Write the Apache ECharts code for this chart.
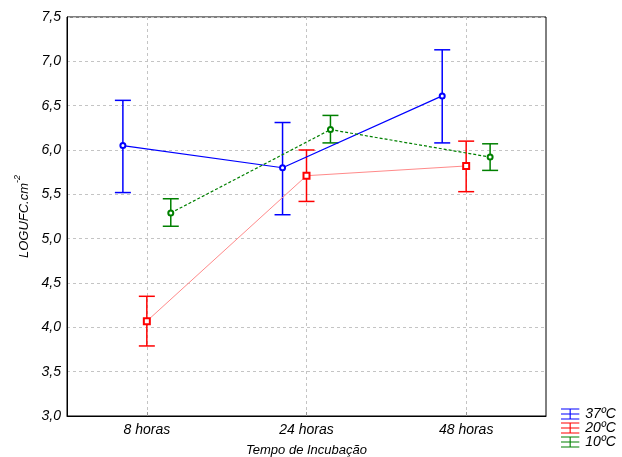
<!DOCTYPE html>
<html>
<head>
<meta charset="utf-8">
<script src="https://cdn.jsdelivr.net/npm/echarts@6/dist/echarts.min.js"></script>
<style>
  html, body { margin: 0; padding: 0; background: #fff; }
  #chart { width: 622px; height: 457px; }
</style>
</head>
<body>
<div id="chart"></div>
<script>
// valores (média e limites do erro)
const categories = ['8 horas', '24 horas', '48 horas']
const mean37 = [6.05, 5.80, 6.61]
const low37 = [5.52, 5.27, 6.08]
const high37 = [6.56, 6.31, 7.13]
const mean20 = [4.07, 5.71, 5.82]
const low20 = [3.79, 5.42, 5.53]
const high20 = [4.35, 6.00, 6.10]
const mean10 = [5.29, 6.23, 5.92]
const low10 = [5.14, 6.08, 5.77]
const high10 = [5.45, 6.39, 6.07]
const seriesNames = ['37ºC', '20ºC', '10ºC']

const FONT = '"Liberation Sans", Arial, sans-serif'
const txt = { color: '#000', fontFamily: FONT, fontStyle: 'italic', fontSize: 13 }
const tickTxt = { ...txt, fontSize: 14 }

// eixo visível: categorias intercaladas com vazios para os ticks caírem no centro
const xAxisData = ['']
categories.forEach(c => xAxisData.push(c, ''))
const odd = i => i % 2 === 1

const barIcon = 'path://M0,0H20V1.2H0Z M0,5.4H20V6.6H0Z M0,10.8H20V12H0Z M9.4,0H10.6V12H9.4Z'

function pts(mean, off) { return mean.map((v, i) => [i + off, v]) }

function errBars(name, color, off, low, high) {
  return {
    type: 'custom', name, xAxisIndex: 1, yAxisIndex: 0, silent: true, z: 3,
    data: low.map((l, i) => [i + off, l, high[i]]),
    encode: { x: 0, y: [1, 2] },
    renderItem(params, api) {
      const x = api.value(0)
      const lo = api.coord([x, api.value(1)])
      const hi = api.coord([x, api.value(2)])
      const w = 8
      const style = { stroke: color, lineWidth: 1.5 }
      return {
        type: 'group', children: [
          { type: 'line', shape: { x1: lo[0], y1: lo[1], x2: hi[0], y2: hi[1] }, style },
          { type: 'line', shape: { x1: lo[0] - w, y1: lo[1], x2: lo[0] + w, y2: lo[1] }, style },
          { type: 'line', shape: { x1: hi[0] - w, y1: hi[1], x2: hi[0] + w, y2: hi[1] }, style }
        ]
      }
    }
  }
}

const chart = echarts.init(document.getElementById('chart'))
chart.setOption({
  animation: false,
  backgroundColor: '#fff',
  grid: {
    left: 67, right: 76, top: 17, bottom: 41, outerBoundsMode: 'none',
    show: true, borderColor: '#000', borderWidth: 1
  },
  xAxis: [{
    type: 'category', data: xAxisData, boundaryGap: false,
    name: 'Tempo de Incubação', nameLocation: 'middle', nameGap: 28, nameTextStyle: txt,
    axisLine: { lineStyle: { color: '#000' } },
    axisTick: { inside: true, length: 4, interval: odd, lineStyle: { color: '#999' } },
    axisLabel: { ...tickTxt, interval: odd, margin: 7 },
    splitLine: { show: true, interval: odd, lineStyle: { type: [3, 3], color: '#c4c4c4' } }
  }, {
    type: 'value', min: -0.5, max: 2.5, show: false
  }],
  yAxis: {
    type: 'value', min: 3, max: 7.5, interval: 0.5,
    name: '{a|LOGUFC.cm}{s|-2}', nameLocation: 'middle', nameGap: 30,
    nameTextStyle: {
      ...txt,
      rich: {
        a: { ...txt, lineHeight: 18, verticalAlign: 'bottom' },
        s: { ...txt, fontSize: 9, lineHeight: 18, verticalAlign: 'top' }
      }
    },
    axisLine: { show: true, onZero: false, lineStyle: { color: '#000' } },
    axisTick: { show: false },
    axisLabel: { ...tickTxt, margin: 6, formatter: v => v.toFixed(1).replace('.', ',') },
    splitLine: { lineStyle: { type: [3, 3], color: '#c4c4c4' } }
  },
  legend: {
    orient: 'vertical', left: 561, top: 407, padding: 0, itemGap: 0,
    itemWidth: 20, itemHeight: 11,
    textStyle: { ...txt, fontSize: 14 },
    data: seriesNames.map(n => ({ name: n, icon: barIcon }))
  },
  series: [
    {
      name: seriesNames[0], type: 'line', xAxisIndex: 1, data: pts(mean37, -0.15),
      symbol: 'emptyCircle', symbolSize: 5, z: 4,
      itemStyle: { color: '#0000ff', borderWidth: 1 }, lineStyle: { color: '#0000ff', width: 1.2 }
    },
    {
      name: seriesNames[1], type: 'line', xAxisIndex: 1, data: pts(mean20, 0),
      symbol: 'emptyRect', symbolSize: 6, z: 4,
      itemStyle: { color: '#ff0000', borderWidth: 1 }, lineStyle: { color: '#ff8a8a', width: 1 }
    },
    {
      name: seriesNames[2], type: 'line', xAxisIndex: 1, data: pts(mean10, 0.15),
      symbol: 'emptyCircle', symbolSize: 5, z: 4,
      itemStyle: { color: '#008000', borderWidth: 1 }, lineStyle: { color: '#008000', width: 1.2, type: [3, 2] }
    },
    errBars('e37', '#0000ff', -0.15, low37, high37),
    errBars('e20', '#ff0000', 0, low20, high20),
    errBars('e10', '#008000', 0.15, low10, high10)
  ]
})
</script>
</body>
</html>
